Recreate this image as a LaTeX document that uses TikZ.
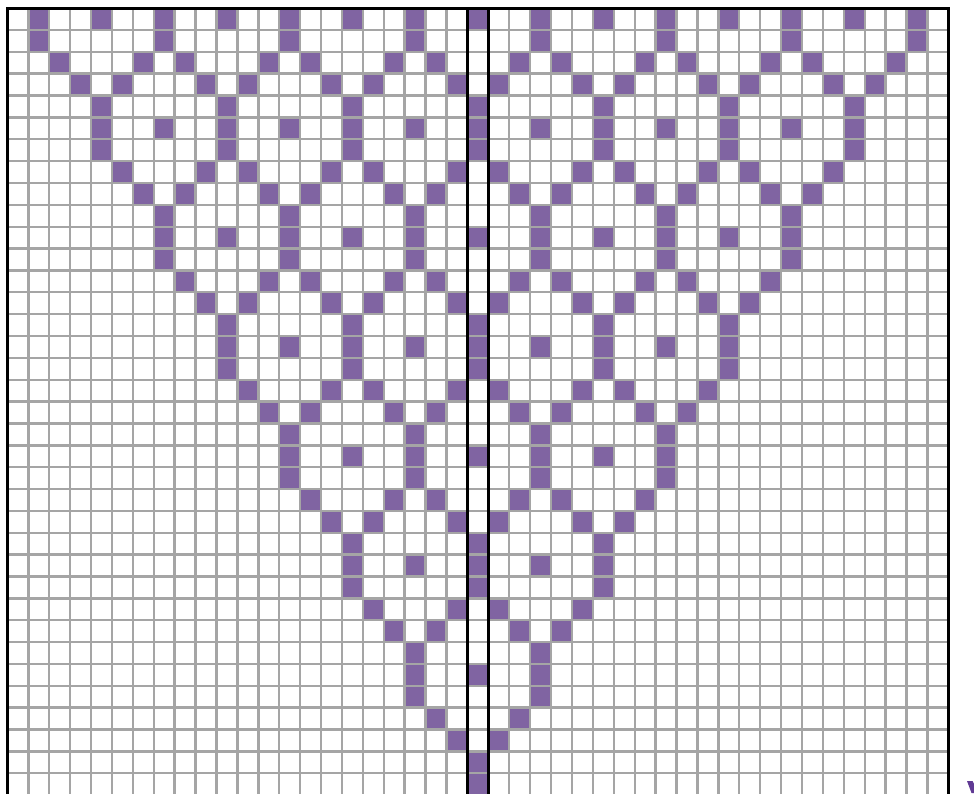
\documentclass[tikz,border=0pt]{standalone}
\definecolor{cellpurple}{HTML}{8064A2}
\definecolor{gridgray}{HTML}{A5A5A5}
\definecolor{markpurple}{HTML}{603A94}
\tikzset{
  cellfill/.style={fill=cellpurple},
  gridline/.style={draw=gridgray, line width=2.4pt},
  borderline/.style={draw=black, line width=2.8pt},
}
\def\gx{7.4}
\def\gy{8.1}
\def\cw{20.91}
\def\ch{21.86}
\newcommand\cellrow[2]{%
  \foreach \c in {#2}{%
    \fill[cellfill] ({\gx+\cw*\c},{\gy+\ch*#1}) rectangle ({\gx+\cw*(\c+1)},{\gy+\ch*(#1+1)});
  }%
}
\begin{document}
\begin{tikzpicture}[x=1pt,y=-1pt]
\useasboundingbox (0,0) rectangle (974,793);
\clip (0,0) rectangle (974,793);
\fill[white] (0,0) rectangle (974,793);
% purple cells
\cellrow{0}{1,4,...,43}
\cellrow{1}{1,7,...,43}
\cellrow{2}{2,6,8,12,14,18,20,24,26,30,32,36,38,42}
\cellrow{3}{3,5,9,11,15,17,21,23,27,29,33,35,39,41}
\cellrow{4}{4,10,...,40}
\cellrow{5}{4,7,...,40}
\cellrow{6}{4,10,...,40}
\cellrow{7}{5,9,11,15,17,21,23,27,29,33,35,39}
\cellrow{8}{6,8,12,14,18,20,24,26,30,32,36,38}
\cellrow{9}{7,13,...,37}
\cellrow{10}{7,10,...,37}
\cellrow{11}{7,13,...,37}
\cellrow{12}{8,12,14,18,20,24,26,30,32,36}
\cellrow{13}{9,11,15,17,21,23,27,29,33,35}
\cellrow{14}{10,16,...,34}
\cellrow{15}{10,13,...,34}
\cellrow{16}{10,16,...,34}
\cellrow{17}{11,15,17,21,23,27,29,33}
\cellrow{18}{12,14,18,20,24,26,30,32}
\cellrow{19}{13,19,25,31}
\cellrow{20}{13,16,...,31}
\cellrow{21}{13,19,25,31}
\cellrow{22}{14,18,20,24,26,30}
\cellrow{23}{15,17,21,23,27,29}
\cellrow{24}{16,22,28}
\cellrow{25}{16,19,22,25,28}
\cellrow{26}{16,22,28}
\cellrow{27}{17,21,23,27}
\cellrow{28}{18,20,24,26}
\cellrow{29}{19,25}
\cellrow{30}{19,22,25}
\cellrow{31}{19,25}
\cellrow{32}{20,24}
\cellrow{33}{21,23}
\cellrow{34}{22}
\cellrow{35}{22}
% grid
\foreach \k in {1,...,44}
  \draw[gridline] ({\gx+\cw*\k},\gy) -- ({\gx+\cw*\k},800);
\foreach \k in {1,...,36}
  \draw[gridline] (\gx,{\gy+\ch*\k}) -- ({\gx+\cw*45},{\gy+\ch*\k});
% black borders
\draw[borderline] (\gx,800) -- (\gx,\gy) -- ({\gx+45*\cw},\gy) -- ({\gx+45*\cw},800);
\draw[borderline] ({\gx+22*\cw},\gy) -- ({\gx+22*\cw},800);
\draw[borderline] ({\gx+23*\cw},\gy) -- ({\gx+23*\cw},800);
% clipped purple fragment at bottom right
\fill[markpurple] (967,781) -- (972.5,781) -- (974,784) -- (974,793) -- (971.5,793) -- cycle;
\end{tikzpicture}
\end{document}
